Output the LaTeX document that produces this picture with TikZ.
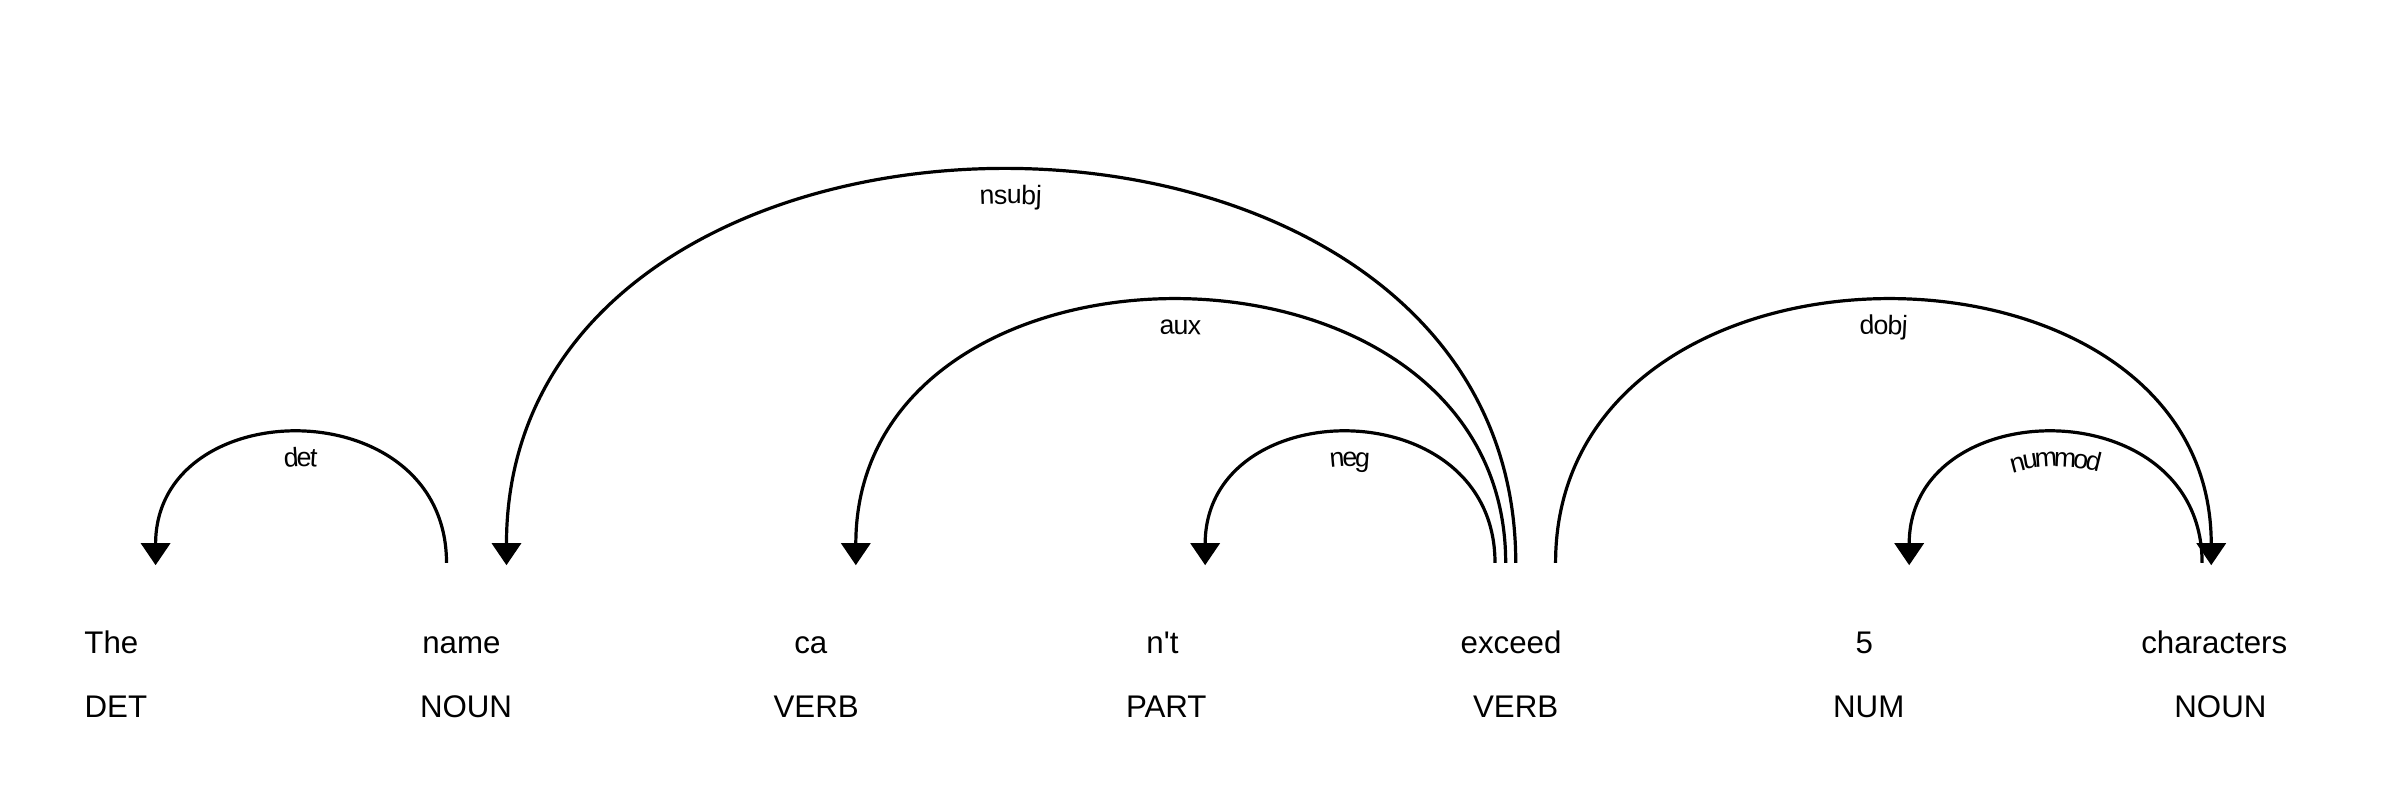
\documentclass[tikz,border=0pt]{standalone}
\usepackage{fontspec}
\newfontfamily\depsans{Liberation Sans}[Ligatures=TeXOff]
\usetikzlibrary{arrows.meta,decorations.text}
\newcommand\wordfont{\depsans\fontsize{20.5}{24}\selectfont}
\newcommand\labelfont{\depsans\fontsize{17.5}{21}\selectfont}
\tikzset{
  token/.style={font=\wordfont, anchor=base, inner sep=0pt},
  deparc/.style={line width=2.1pt, -{Triangle[width=19pt,length=14.4pt]}},
  deplabel/.style={decorate, decoration={text along path, text={|\labelfont|#1},
      text align=center, raise=-21.6pt}}
}
\begin{document}
\begin{tikzpicture}[x=1pt,y=1pt]
    \useasboundingbox (0,0) rectangle (1568,531);
    % words
    \node [token] (the) at (73,102.3) {The};
    \node [token] (name) at (302.5,102.3) {name};
    \node [token] (ca) at (531.5,102.3) {ca};
    \node [token] (nt) at (762,102.3) {n't};
    \node [token] (exceed) at (990.5,102.3) {exceed};
    \node [token] (five) at (1222,102.3) {5};
    \node [token] (characters) at (1451.5,102.3) {characters};
    % tags
    \node [token] (the-tag) at (76,60.8) {DET};
    \node [token] (name-tag) at (305.5,60.8) {NOUN};
    \node [token] (ca-tag) at (535,60.8) {VERB};
    \node [token] (nt-tag) at (764.5,60.8) {PART};
    \node [token] (exceed-tag) at (993.5,60.8) {VERB};
    \node [token] (five-tag) at (1225,60.8) {NUM};
    \node [token] (characters-tag) at (1455.5,60.8) {NOUN};
    % arc ends
    \coordinate (det-out) at (292.7,162);
    \coordinate (det-in) at (102,160.5);
    \coordinate (nsubj-out) at (993.6,162);
    \coordinate (nsubj-in) at (332,160.5);
    \coordinate (aux-out) at (987,162);
    \coordinate (aux-in) at (561,160.5);
    \coordinate (neg-out) at (980,162);
    \coordinate (neg-in) at (790,160.5);
    \coordinate (dobj-out) at (1019.7,162);
    \coordinate (dobj-in) at (1449.5,160.5);
    \coordinate (nummod-out) at (1443.5,162);
    \coordinate (nummod-in) at (1251.5,160.5);
    % arcs
    \draw [deparc] (det-out) .. controls +(0,114.1) and +(0,114.1) .. (det-in);
    \draw [deparc] (nsubj-out) .. controls +(0,343.5) and +(0,343.5) .. (nsubj-in);
    \draw [deparc] (aux-out) .. controls +(0,229.7) and +(0,229.7) .. (aux-in);
    \draw [deparc] (neg-out) .. controls +(0,114.1) and +(0,114.1) .. (neg-in);
    \draw [deparc] (dobj-out) .. controls +(0,229.7) and +(0,229.7) .. (dobj-in);
    \draw [deparc] (nummod-out) .. controls +(0,114.1) and +(0,114.1) .. (nummod-in);
    % labels
    \path [deplabel=det] (det-in) .. controls +(0,114.1) and +(0,114.1) .. (det-out);
    \path [deplabel=nsubj] (nsubj-in) .. controls +(0,343.5) and +(0,343.5) .. (nsubj-out);
    \path [deplabel=aux] (aux-in) .. controls +(0,229.7) and +(0,229.7) .. (aux-out);
    \path [deplabel=neg] (neg-in) .. controls +(0,114.1) and +(0,114.1) .. (neg-out);
    \path [deplabel=dobj] (dobj-out) .. controls +(0,229.7) and +(0,229.7) .. (dobj-in);
    \path [deplabel=nummod] (nummod-in) .. controls +(0,114.1) and +(0,114.1) .. (nummod-out);
\end{tikzpicture}
\end{document}
